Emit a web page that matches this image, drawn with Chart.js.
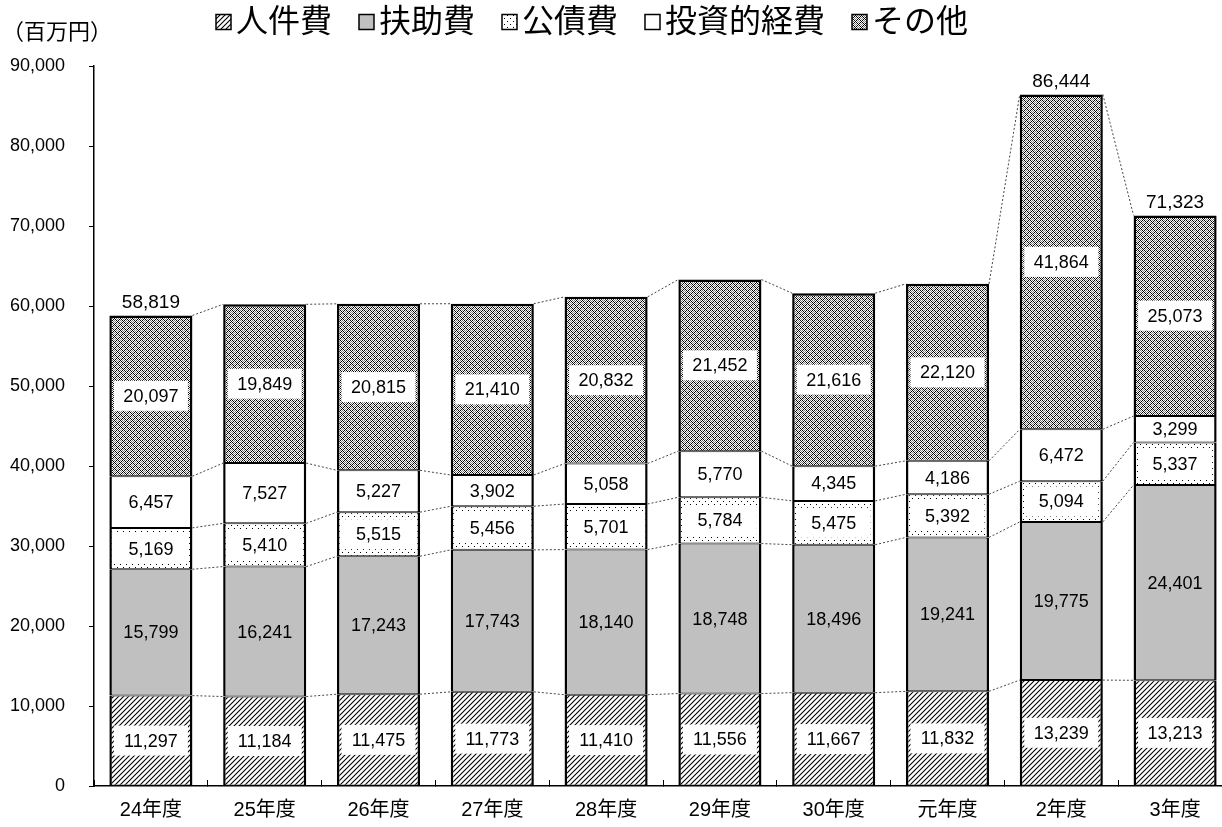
<!DOCTYPE html>
<html>
<head>
<meta charset="utf-8">
<script src="https://cdn.jsdelivr.net/npm/chart.js@4.4.1/dist/chart.umd.min.js"></script>
<style>
  html, body { margin: 0; padding: 0; background: #fff; overflow: hidden; }
  #wrap { position: absolute; left: 0; top: 0; width: 1240px; height: 827px; }
</style>
</head>
<body>
<div id="wrap"><canvas id="chart" width="1240" height="827"></canvas></div>
<script>
const years = ['24年度', '25年度', '26年度', '27年度', '28年度', '29年度', '30年度', '元年度', '2年度', '3年度'];
const seriesNames = ['人件費', '扶助費', '公債費', '投資的経費', 'その他'];
const jinkenhi = [11297, 11184, 11475, 11773, 11410, 11556, 11667, 11832, 13239, 13213];
const fujohi = [15799, 16241, 17243, 17743, 18140, 18748, 18496, 19241, 19775, 24401];
const kousaihi = [5169, 5410, 5515, 5456, 5701, 5784, 5475, 5392, 5094, 5337];
const toushi = [6457, 7527, 5227, 3902, 5058, 5770, 4345, 4186, 6472, 3299];
const sonota = [20097, 19849, 20815, 21410, 20832, 21452, 21616, 22120, 41864, 25073];
const totals = [58819, null, null, null, null, null, null, null, 86444, 71323];
const yTicks = [0, 10000, 20000, 30000, 40000, 50000, 60000, 70000, 80000, 90000];

const FONT = '"Liberation Sans", "Noto Sans CJK JP", sans-serif';
const CJK = '"Noto Sans CJK JP", sans-serif';

function makePattern(w, h, draw) {
  const c = document.createElement('canvas');
  c.width = w; c.height = h;
  const g = c.getContext('2d');
  draw(g);
  return g.createPattern(c, 'repeat');
}

// diagonal hatch
const hatch = makePattern(5, 5, g => {
  g.fillStyle = '#fff'; g.fillRect(0, 0, 5, 5);
  g.strokeStyle = '#000'; g.lineWidth = 1.1;
  g.beginPath();
  g.moveTo(0, 5); g.lineTo(5, 0);
  g.moveTo(-1, 1); g.lineTo(1, -1);
  g.moveTo(4, 6); g.lineTo(6, 4);
  g.stroke();
});
// sparse dots
const dots = makePattern(6, 6, g => {
  g.fillStyle = '#fff'; g.fillRect(0, 0, 6, 6);
  g.fillStyle = '#000';
  g.fillRect(0, 0, 1, 1);
  g.fillRect(3, 3, 1, 1);
});
// dense weave
const weave = makePattern(6, 6, g => {
  for (let x = 0; x < 6; x++) {
    for (let y = 0; y < 6; y++) {
      let col = '#fff';
      if ((x + y) % 6 === 0 || (x - y + 6) % 6 === 0) col = '#000';
      else if ((x + y) % 2 === 0) col = '#7a7a7a';
      g.fillStyle = col;
      g.fillRect(x, y, 1, 1);
    }
  }
});

const fills = [hatch, '#c0c0c0', dots, '#ffffff', weave];
const values = [jinkenhi, fujohi, kousaihi, toushi, sonota];
const boxedLabel = [true, false, true, false, true];

// dotted lines joining the bar segments
const connectorPlugin = {
  id: 'connectors',
  afterDatasetsDraw(chart) {
    const ctx = chart.ctx;
    ctx.save();
    ctx.strokeStyle = '#444';
    ctx.lineWidth = 1;
    ctx.setLineDash([2, 2]);
    chart.data.datasets.forEach((ds, d) => {
      const bars = chart.getDatasetMeta(d).data;
      for (let i = 0; i < bars.length - 1; i++) {
        const a = bars[i], b = bars[i + 1];
        ctx.beginPath();
        ctx.moveTo(a.x + a.width / 2, a.y);
        ctx.lineTo(b.x - b.width / 2, b.y);
        ctx.stroke();
      }
    });
    ctx.restore();
  }
};

const labelPlugin = {
  id: 'segLabels',
  afterDatasetsDraw(chart) {
    const ctx = chart.ctx;
    ctx.save();
    ctx.font = '18px ' + FONT;
    ctx.textAlign = 'center';
    ctx.textBaseline = 'middle';
    chart.data.datasets.forEach((ds, d) => {
      const bars = chart.getDatasetMeta(d).data;
      bars.forEach((bar, i) => {
        const cy = (bar.y + bar.base) / 2;
        const txt = ds.data[i].toLocaleString('en-US');
        if (boxedLabel[d]) {
          ctx.fillStyle = '#fff';
          ctx.fillRect(bar.x - 37, cy - 15, 74, 30);
        }
        ctx.fillStyle = '#000';
        ctx.fillText(txt, bar.x, cy + 1);
      });
    });
    // totals above the bar
    const top = chart.getDatasetMeta(chart.data.datasets.length - 1).data;
    ctx.font = '19px ' + FONT;
    ctx.textBaseline = 'bottom';
    totals.forEach((t, i) => {
      if (t == null) return;
      ctx.fillText(t.toLocaleString('en-US'), top[i].x, top[i].y - 3);
    });
    // unit label
    ctx.textAlign = 'left';
    ctx.textBaseline = 'middle';
    ctx.font = '22px ' + CJK;
    ctx.fillText('（百万円）', 2, 31);
    ctx.restore();
  }
};

// legend row at the top
const legendPlugin = {
  id: 'topLegend',
  afterDraw(chart) {
    const ctx = chart.ctx;
    ctx.save();
    ctx.font = '32px ' + FONT;
    ctx.textBaseline = 'middle';
    const box = 15, gapBox = 5;
    const widths = seriesNames.map(n => ctx.measureText(n).width);
    const startX = 216, endX = 968;
    const used = widths.reduce((s, w) => s + w + box + gapBox, 0);
    const gap = (endX - startX - used) / (seriesNames.length - 1);
    let x = startX;
    const cy = 22;
    seriesNames.forEach((n, i) => {
      ctx.fillStyle = fills[i];
      ctx.fillRect(x, cy - box / 2, box, box);
      ctx.strokeStyle = '#000';
      ctx.lineWidth = 1.5;
      ctx.strokeRect(x, cy - box / 2, box, box);
      ctx.fillStyle = '#000';
      ctx.fillText(n, x + box + gapBox, cy + 1);
      x += box + gapBox + widths[i] + gap;
    });
    ctx.restore();
  }
};

const datasets = seriesNames.map((name, d) => ({
  label: name,
  data: values[d],
  backgroundColor: fills[d],
  borderColor: '#000',
  borderWidth: d === seriesNames.length - 1
    ? { top: 2.5, bottom: 1, left: 2.5, right: 2.5 }
    : { top: 1, bottom: 1, left: 2.5, right: 2.5 },
  borderSkipped: false,
  categoryPercentage: 1,
  barPercentage: 0.73
}));

new Chart(document.getElementById('chart'), {
  type: 'bar',
  data: { labels: years, datasets: datasets },
  plugins: [connectorPlugin, labelPlugin, legendPlugin],
  options: {
    responsive: false,
    animation: false,
    layout: { padding: { top: 66, right: 8, left: 0, bottom: 0 } },
    plugins: { legend: { display: false }, tooltip: { enabled: false } },
    scales: {
      x: {
        stacked: true,
        afterFit(s) { s.height = 41; },
        grid: { display: true, drawOnChartArea: false, drawTicks: true, tickLength: -6, color: '#000', offset: true },
        border: { display: true, color: '#000', width: 1.5 },
        ticks: { color: '#000', font: { family: FONT, size: 20 }, padding: 18 }
      },
      y: {
        stacked: true,
        min: 0,
        max: 90000,
        afterFit(s) { s.width = 94; },
        afterBuildTicks(s) { s.ticks = yTicks.map(v => ({ value: v })); },
        grid: { display: true, drawOnChartArea: false, drawTicks: true, tickLength: 5, color: '#000' },
        border: { display: true, color: '#000', width: 1.5 },
        ticks: {
          color: '#000',
          font: { family: FONT, size: 18 },
          padding: 24,
          callback: v => v.toLocaleString('en-US')
        }
      }
    }
  }
});
</script>
</body>
</html>
